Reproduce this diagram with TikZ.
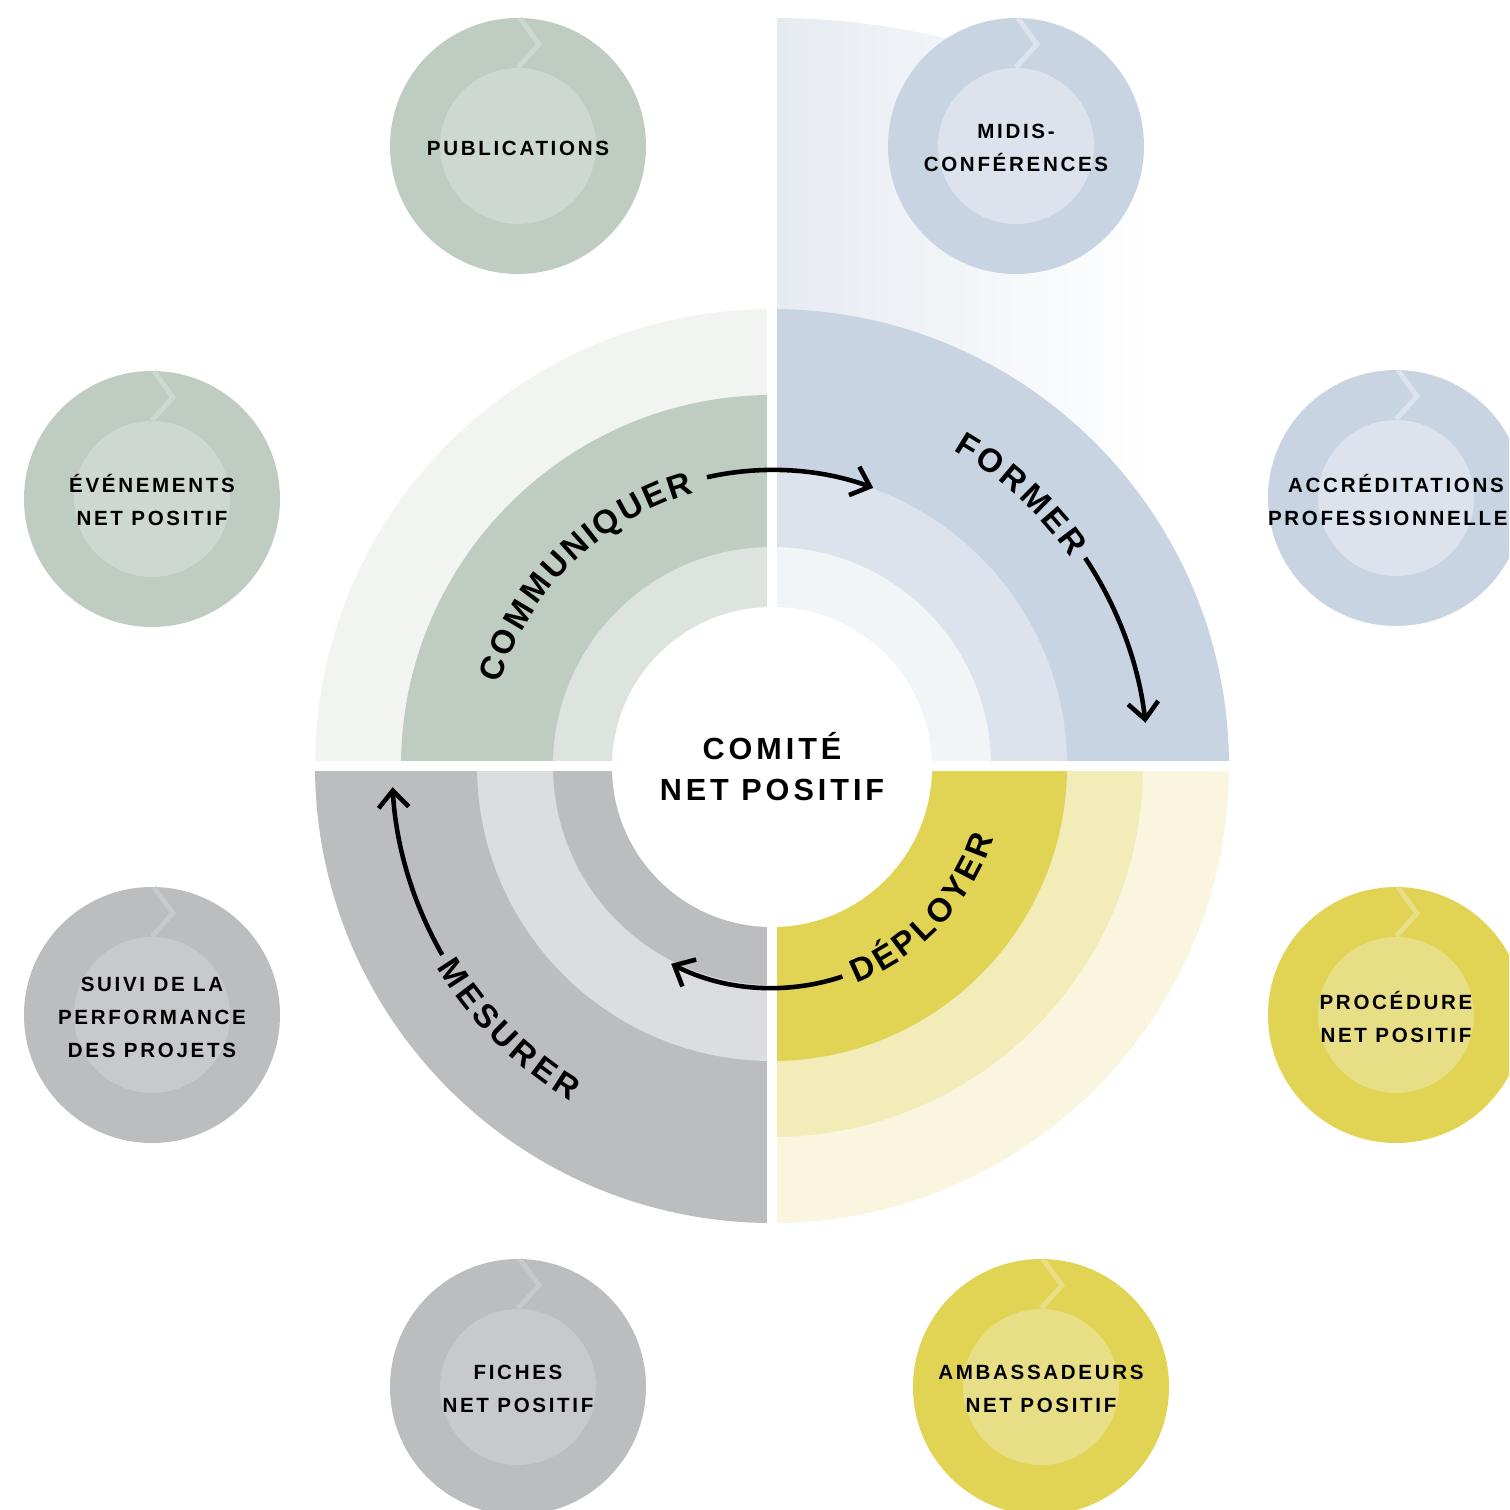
\documentclass[tikz,border=0pt]{standalone}
\usepackage{fontspec}
\setmainfont{Liberation Sans}
\newfontfamily\trackedfont{Liberation Sans}[LetterSpace=13]
\newfontfamily\arclabelfont{Liberation Sans}
\usetikzlibrary{arrows.meta, decorations.text}

\definecolor{sage}{HTML}{BFCCC1}
\definecolor{sagelight}{HTML}{CDD8D0}
\definecolor{sagepale}{HTML}{DDE4DF}
\definecolor{sagemist}{HTML}{F2F4F2}
\definecolor{steel}{HTML}{C8D4E2}
\definecolor{steellight}{HTML}{DCE3EC}
\definecolor{steelpale}{HTML}{F2F5F8}
\definecolor{steelmist}{HTML}{E6EBF1}
\definecolor{mustard}{HTML}{E1D354}
\definecolor{mustardlight}{HTML}{E8DE85}
\definecolor{mustardpale}{HTML}{F2ECB8}
\definecolor{mustardmist}{HTML}{F9F5DF}
\definecolor{slate}{HTML}{BCBDBF}
\definecolor{slatelight}{HTML}{C8C9CB}
\definecolor{slatepale}{HTML}{DCDDDF}

\tikzset{
    satellite/.style={circle, minimum size=2.56cm, inner sep=0pt},
    core/.style={circle, minimum size=1.56cm, inner sep=0pt},
    caption/.style={
        align=center, inner sep=0pt,
        font=\trackedfont\bfseries\fontsize{5.85}{9.4}\selectfont
    },
    notch/.style={line width=1.4pt},
    hub/.style={
        circle, fill=white, minimum size=3.2cm, inner sep=0pt, align=center,
        font=\trackedfont\bfseries\fontsize{8.7}{11.7}\selectfont
    },
    flow/.style={draw=black, line width=1.3pt, -{Straight Barb[length=4.8pt, width=8.6pt]}},
    arclabel/.style={
        decorate, decoration={text effects along path, text={#1}, raise=-3.4pt,
        text effects/.cd, text along path, fit text to path,
        characters={anchor=base, inner sep=0pt,
            font=\arclabelfont\bfseries\fontsize{9.4}{11}\selectfont}}
    }
}

\begin{document}
\begin{tikzpicture}

\useasboundingbox (-7.72,-7.44) rectangle (7.37,7.66);
\clip (-7.72,-7.44) rectangle (7.37,7.66);

% Fading backdrop behind Former
\begin{scope}
  \clip (0,0) -- (0:7.48) arc[start angle=0, end angle=90, radius=7.48] -- cycle;
  \shade[left color=steelmist, right color=white] (0.05,0) rectangle (3.8,7.5);
\end{scope}

% Communiquer quadrant
\fill[sagemist] (0,0) -- (90:4.57) arc[start angle=90, end angle=180, radius=4.57] -- cycle;
\fill[sage] (0,0) -- (90:3.71) arc[start angle=90, end angle=180, radius=3.71] -- cycle;
\fill[sagepale] (0,0) -- (90:2.19) arc[start angle=90, end angle=180, radius=2.19] -- cycle;

% Former quadrant
\fill[steel] (0,0) -- (0:4.57) arc[start angle=0, end angle=90, radius=4.57] -- cycle;
\fill[steellight] (0,0) -- (0:2.95) arc[start angle=0, end angle=90, radius=2.95] -- cycle;
\fill[steelpale] (0,0) -- (0:2.19) arc[start angle=0, end angle=90, radius=2.19] -- cycle;

% Deployer quadrant
\fill[mustardmist] (0,0) -- (270:4.57) arc[start angle=270, end angle=360, radius=4.57] -- cycle;
\fill[mustardpale] (0,0) -- (270:3.71) arc[start angle=270, end angle=360, radius=3.71] -- cycle;
\fill[mustard] (0,0) -- (270:2.95) arc[start angle=270, end angle=360, radius=2.95] -- cycle;

% Mesurer quadrant
\fill[slate] (0,0) -- (180:4.57) arc[start angle=180, end angle=270, radius=4.57] -- cycle;
\fill[slatepale] (0,0) -- (180:2.95) arc[start angle=180, end angle=270, radius=2.95] -- cycle;
\fill[slate] (0,0) -- (180:2.19) arc[start angle=180, end angle=270, radius=2.19] -- cycle;

% Gaps between quadrants
\fill[white] (-0.05,-4.7) rectangle (0.05,7.7);
\fill[white] (-4.7,-0.05) rectangle (4.7,0.05);

% Center
\node[hub] (hub) at (0,-0.01) {COMITÉ\\NET POSITIF};

% Ring labels
\path[arclabel=COMMUNIQUER] (163:2.96) arc[start angle=163, end angle=106, radius=2.96];
\path[arclabel=FORMER] (60:3.76) arc[start angle=60, end angle=35, radius=3.76];
\path[arclabel=DÉPLOYER] (-69:2.21) arc[start angle=-69, end angle=-18, radius=2.21];
\path[arclabel=MESURER] (211:3.79) arc[start angle=211, end angle=239, radius=3.79];

% Cycle arrows
\coordinate (com) at (102.7:2.96);
\coordinate (for) at (33.6:3.76);
\coordinate (dep) at (-71.5:2.22);
\coordinate (mes) at (209.8:3.80);
\draw[flow] (com) arc[start angle=102.7, end angle=70, radius=2.96];
\draw[flow] (for) arc[start angle=33.6, end angle=6.6, radius=3.76];
\draw[flow] (dep) arc[start angle=-71.5, end angle=-117, radius=2.22];
\draw[flow] (mes) arc[start angle=209.8, end angle=183.2, radius=3.80];

% Publications
\node[satellite, fill=sage] (pub) at (-2.54,6.20) {};
\node[core, fill=sagelight] (pubcore) at (pub) {};
\draw[notch, sagelight] (pub.north) ++(0.02,-0.01) -- ++(0.19,-0.26) -- (pubcore.north);
\node[caption] (pubtext) at (-2.54,6.18) {PUBLICATIONS};

% Evenements
\node[satellite, fill=sage] (evt) at (-6.20,2.67) {};
\node[core, fill=sagelight] (evtcore) at (evt) {};
\draw[notch, sagelight] (evt.north) ++(0.02,-0.01) -- ++(0.19,-0.26) -- (evtcore.north);
\node[caption] (evttext) at (-6.20,2.66) {ÉVÉNEMENTS\\NET POSITIF};

% Midis-conferences
\node[satellite, fill=steel] (midi) at (2.44,6.20) {};
\node[core, fill=steellight] (midicore) at (midi) {};
\draw[notch, steellight] (midi.north) ++(0.02,-0.01) -- ++(0.19,-0.26) -- (midicore.north);
\node[caption] (miditext) at (2.44,6.18) {MIDIS-\\CONFÉRENCES};

% Accreditations
\node[satellite, fill=steel] (acc) at (6.24,2.68) {};
\node[core, fill=steellight] (acccore) at (acc) {};
\draw[notch, steellight] (acc.north) ++(0.02,-0.01) -- ++(0.19,-0.26) -- (acccore.north);
\node[caption] (acctext) at (6.24,2.66) {ACCRÉDITATIONS\\PROFESSIONNELLES};

% Procedure
\node[satellite, fill=mustard] (proc) at (6.24,-2.49) {};
\node[core, fill=mustardlight] (proccore) at (proc) {};
\draw[notch, mustardlight] (proc.north) ++(0.02,-0.01) -- ++(0.19,-0.26) -- (proccore.north);
\node[caption] (proctext) at (6.24,-2.51) {PROCÉDURE\\NET POSITIF};

% Ambassadeurs
\node[satellite, fill=mustard] (amb) at (2.69,-6.21) {};
\node[core, fill=mustardlight] (ambcore) at (amb) {};
\draw[notch, mustardlight] (amb.north) ++(0.02,-0.01) -- ++(0.19,-0.26) -- (ambcore.north);
\node[caption] (ambtext) at (2.69,-6.23) {AMBASSADEURS\\NET POSITIF};

% Fiches
\node[satellite, fill=slate] (fic) at (-2.54,-6.21) {};
\node[core, fill=slatelight] (ficcore) at (fic) {};
\draw[notch, slatelight] (fic.north) ++(0.02,-0.01) -- ++(0.19,-0.26) -- (ficcore.north);
\node[caption] (fictext) at (-2.54,-6.23) {FICHES\\NET POSITIF};

% Suivi
\node[satellite, fill=slate] (sui) at (-6.20,-2.49) {};
\node[core, fill=slatelight] (suicore) at (sui) {};
\draw[notch, slatelight] (sui.north) ++(0.02,-0.01) -- ++(0.19,-0.26) -- (suicore.north);
\node[caption] (suitext) at (-6.20,-2.51) {SUIVI DE LA\\PERFORMANCE\\DES PROJETS};

\end{tikzpicture}
\end{document}
